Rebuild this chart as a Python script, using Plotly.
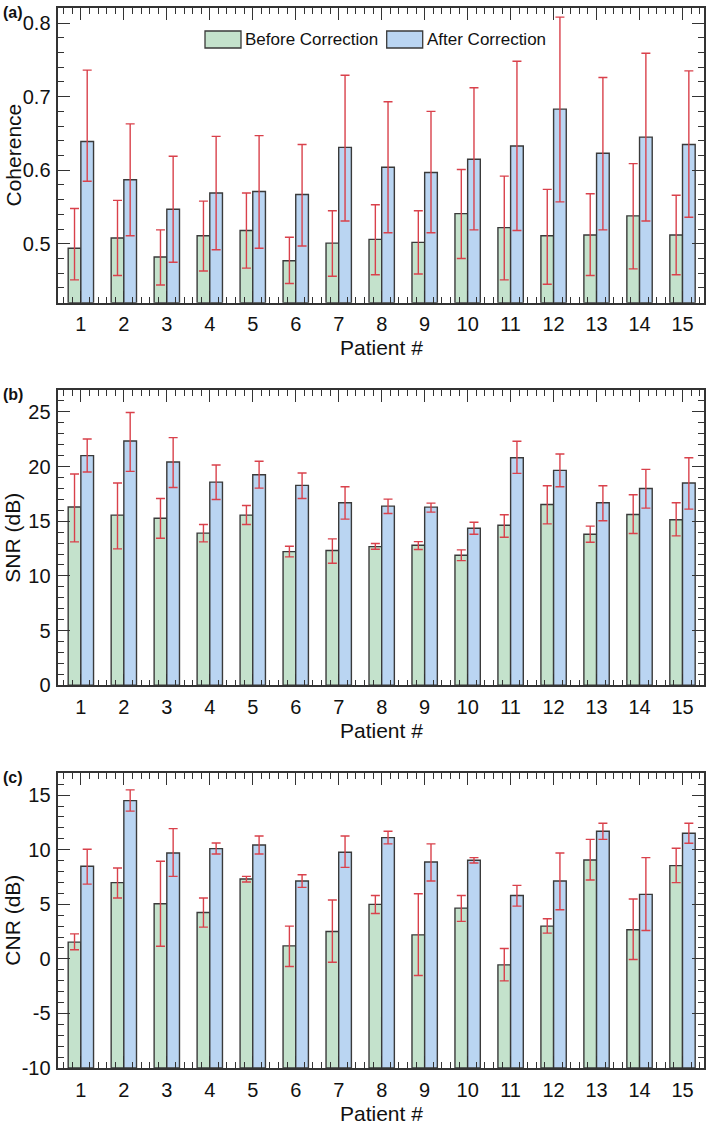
import plotly.graph_objects as go

W, H = 709, 1127

patients = list(range(1, 16))

# (a) Coherence
coh_before = [0.494, 0.508, 0.482, 0.511, 0.518, 0.477, 0.501, 0.506, 0.502, 0.541, 0.522, 0.511, 0.512, 0.538, 0.512]
coh_before_hi = [0.548, 0.559, 0.519, 0.558, 0.569, 0.509, 0.545, 0.553, 0.545, 0.601, 0.592, 0.574, 0.568, 0.609, 0.566]
coh_before_lo = [0.451, 0.457, 0.444, 0.463, 0.467, 0.446, 0.456, 0.458, 0.459, 0.480, 0.451, 0.445, 0.457, 0.466, 0.458]
coh_after = [0.639, 0.587, 0.547, 0.569, 0.571, 0.567, 0.631, 0.604, 0.597, 0.615, 0.633, 0.683, 0.623, 0.645, 0.635]
coh_after_hi = [0.736, 0.663, 0.619, 0.646, 0.647, 0.635, 0.729, 0.693, 0.680, 0.712, 0.748, 0.808, 0.726, 0.759, 0.735]
coh_after_lo = [0.585, 0.511, 0.475, 0.492, 0.494, 0.497, 0.531, 0.515, 0.515, 0.519, 0.518, 0.557, 0.519, 0.531, 0.536]

# (b) SNR (dB)
snr_before = [16.3, 15.56, 15.28, 13.91, 15.56, 12.22, 12.32, 12.68, 12.81, 11.89, 14.64, 16.53, 13.81, 15.62, 15.13]
snr_before_hi = [19.32, 18.49, 17.08, 14.70, 16.44, 12.71, 13.39, 12.96, 13.14, 12.38, 15.59, 18.25, 14.55, 17.42, 16.69]
snr_before_lo = [13.11, 12.47, 13.45, 13.11, 14.70, 11.74, 11.16, 12.44, 12.41, 11.40, 13.54, 14.76, 13.08, 13.88, 13.66]
snr_after = [21.0, 22.34, 20.42, 18.58, 19.25, 18.28, 16.69, 16.38, 16.29, 14.36, 20.81, 19.65, 16.69, 18.0, 18.49]
snr_after_hi = [22.52, 24.94, 22.65, 20.14, 20.48, 19.41, 18.15, 17.02, 16.66, 14.91, 22.31, 21.15, 18.25, 19.74, 20.81]
snr_after_lo = [19.50, 19.56, 18.09, 16.99, 18.03, 17.08, 15.19, 15.71, 15.83, 13.81, 19.38, 18.15, 15.04, 16.20, 16.11]

# (c) CNR (dB)
cnr_before = [1.53, 6.98, 5.05, 4.25, 7.31, 1.19, 2.51, 4.99, 2.20, 4.65, -0.55, 3.00, 9.06, 2.66, 8.54]
cnr_before_hi = [2.29, 8.32, 8.94, 5.57, 7.56, 3.00, 5.39, 5.81, 5.97, 5.81, 0.95, 3.67, 10.95, 5.48, 10.13]
cnr_before_lo = [0.83, 5.57, 1.16, 2.91, 7.04, -0.70, -0.31, 4.16, -1.53, 3.43, -2.02, 2.36, 7.22, -0.06, 6.98]
cnr_after = [8.48, 14.50, 9.70, 10.10, 10.43, 7.13, 9.76, 11.11, 8.87, 9.03, 5.81, 7.13, 11.69, 5.91, 11.51]
cnr_after_hi = [10.04, 15.48, 11.93, 10.62, 11.26, 7.71, 11.26, 11.69, 10.53, 9.27, 6.73, 9.70, 12.42, 9.27, 12.42]
cnr_after_lo = [6.85, 13.53, 7.56, 9.61, 9.61, 6.55, 8.38, 10.53, 7.13, 8.78, 4.83, 4.50, 10.95, 2.60, 10.59]

# tick labels
coh_ticks = [0.5, 0.6, 0.7, 0.8]
coh_ticktext = ["0.5", "0.6", "0.7", "0.8"]
snr_ticks = [0, 5, 10, 15, 20, 25]
snr_ticktext = ["0", "5", "10", "15", "20", "25"]
cnr_ticks = [-10, -5, 0, 5, 10, 15]
cnr_ticktext = ["-10", "-5", "0", "5", "10", "15"]
patient_ticktext = [str(p) for p in patients]

series_names = ["Before Correction", "After Correction"]
y_titles = ["Coherence", "SNR (dB)", "CNR (dB)"]
x_title = "Patient #"
panel_labels = ["(a)", "(b)", "(c)"]

GREEN = "#c4e2cc"
BLUE = "#bad5f2"
EDGE = "#3a3a3a"
RED = "#d9414b"
AX = "#333333"
FONT = "Liberation Sans, Arial, sans-serif"

# pixel geometry of the plot areas
X0, X1 = 58.3, 704.0
panels_px = [(8.3, 302.7), (390.0, 685.3), (773.3, 1068.0)]
yranges = [[0.42, 0.82], [0, 27], [-10, 17]]
bases = [0.42, 0, -10]
yticks = [(coh_ticks, coh_ticktext), (snr_ticks, snr_ticktext), (cnr_ticks, cnr_ticktext)]
yminor = [(0.5, 0.02), (0, 1), (0, 1)]


def px_x(p):
    return p / W


def px_y(p):
    return 1 - p / H


data_sets = [
    (coh_before, coh_before_hi, coh_before_lo, coh_after, coh_after_hi, coh_after_lo),
    (snr_before, snr_before_hi, snr_before_lo, snr_after, snr_after_hi, snr_after_lo),
    (cnr_before, cnr_before_hi, cnr_before_lo, cnr_after, cnr_after_hi, cnr_after_lo),
]

fig = go.Figure()

for k, (b, bhi, blo, a, ahi, alo) in enumerate(data_sets):
    xa = "x" if k == 0 else f"x{k+1}"
    ya = "y" if k == 0 else f"y{k+1}"
    base = bases[k]
    for vals, hi, lo, col, name in [(b, bhi, blo, GREEN, series_names[0]), (a, ahi, alo, BLUE, series_names[1])]:
        fig.add_trace(go.Bar(
            x=patients,
            y=[v - base for v in vals],
            base=base,
            name=name,
            showlegend=False,
            marker=dict(color=col, line=dict(color=EDGE, width=1.4)),
            error_y=dict(
                type="data", symmetric=False,
                array=[h - v for h, v in zip(hi, vals)],
                arrayminus=[v - l for v, l in zip(vals, lo)],
                color=RED, thickness=1.4, width=4.5,
            ),
            xaxis=xa, yaxis=ya,
        ))

axis_common = dict(
    showline=True, linecolor=AX, linewidth=1.5, mirror="allticks",
    ticks="inside", ticklen=12, tickwidth=1.3, tickcolor=AX,
    showgrid=False, zeroline=False, automargin=False,
    tickfont=dict(family=FONT, size=20, color="#111"),
)

layout = dict(
    width=W, height=H,
    margin=dict(l=0, r=0, t=0, b=0, autoexpand=False),
    paper_bgcolor="white", plot_bgcolor="white",
    barmode="group", bargap=0.41, bargroupgap=0.0,
    showlegend=False,
    font=dict(family=FONT, color="#111"),
)

annotations = []
shapes = []
for k, (top, bot) in enumerate(panels_px):
    sfx = "" if k == 0 else str(k + 1)
    layout["xaxis" + sfx] = dict(
        axis_common,
        domain=[px_x(X0), px_x(X1)],
        range=[0.475, 15.5],
        tickmode="array", tickvals=patients, ticktext=patient_ticktext,
        anchor="y" + sfx,
        ticklabelstandoff=3,
        minor=dict(tickmode="linear", dtick=0.2, tick0=1, ticks="inside", ticklen=6,
                   tickwidth=1.2, tickcolor=AX, showgrid=False),
    )
    tv, tt = yticks[k]
    m0, md = yminor[k]
    layout["yaxis" + sfx] = dict(
        axis_common,
        domain=[px_y(bot), px_y(top)],
        range=yranges[k],
        tickmode="array", tickvals=tv, ticktext=tt,
        anchor="x" + sfx,
        ticklabelstandoff=2,
        minor=dict(tickmode="linear", tick0=m0, dtick=md, ticks="inside", ticklen=6,
                   tickwidth=1.2, tickcolor=AX, showgrid=False),
    )
    # axis titles
    annotations.append(dict(
        text=x_title, xref="paper", yref="paper",
        x=px_x((X0 + X1) / 2), y=px_y(bot + 45), xanchor="center", yanchor="middle",
        showarrow=False, font=dict(family=FONT, size=21, color="#111"),
    ))
    annotations.append(dict(
        text=y_titles[k], xref="paper", yref="paper", textangle=-90,
        x=px_x(13), y=px_y((top + bot) / 2), xanchor="center", yanchor="middle",
        showarrow=False, font=dict(family=FONT, size=21, color="#111"),
    ))
    annotations.append(dict(
        text="<b>" + panel_labels[k] + "</b>", xref="paper", yref="paper",
        x=px_x(1), y=px_y(top + 4), xanchor="left", yanchor="middle",
        showarrow=False, font=dict(family=FONT, size=16, color="#111"),
    ))

# custom legend in panel (a)
legend_items = [(205, 241, GREEN, series_names[0]), (386.7, 422.7, BLUE, series_names[1])]
for xl, xr, col, name in legend_items:
    shapes.append(dict(
        type="rect", xref="paper", yref="paper",
        x0=px_x(xl), x1=px_x(xr), y0=px_y(48), y1=px_y(31),
        fillcolor=col, line=dict(color=EDGE, width=1.3),
    ))
    annotations.append(dict(
        text=name, xref="paper", yref="paper",
        x=px_x(xr + 2), y=px_y(40), xanchor="left", yanchor="middle",
        showarrow=False, font=dict(family=FONT, size=17, color="#111"),
    ))

layout["annotations"] = annotations
layout["shapes"] = shapes
fig.update_layout(**layout)

fig.write_html(
    "out.html",
    config={"displayModeBar": False},
    post_script="document.body.style.margin='0';document.body.style.padding='0';document.body.style.overflow='hidden';",
)
